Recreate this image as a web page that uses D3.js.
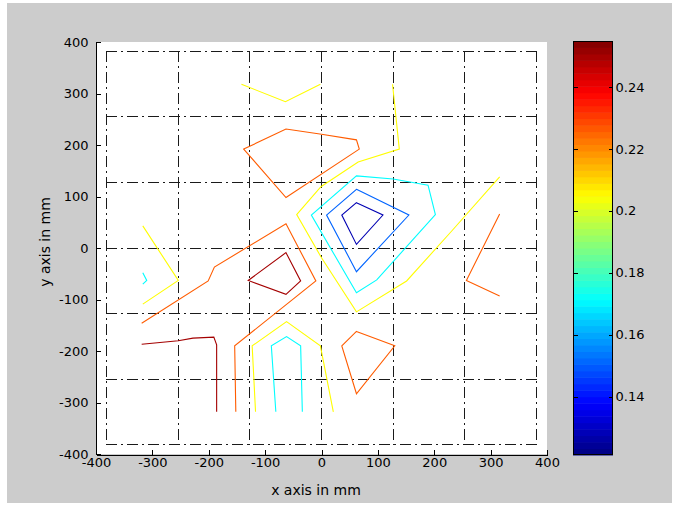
<!DOCTYPE html>
<html>
<head>
<meta charset="utf-8">
<script src="https://cdn.jsdelivr.net/npm/d3@7"></script>
<style>
  body { margin: 0; background: #fff; }
  svg { display: block; }
  text { font-family: "DejaVu Sans", sans-serif; fill: #000; }
</style>
</head>
<body>
<div class="vis"></div>
<script>
// axis ticks and grid (mm)
const xTicks = [-400, -300, -200, -100, 0, 100, 200, 300, 400];
const yTicks = [-400, -300, -200, -100, 0, 100, 200, 300, 400];
const gridPos = [-381.8, -254.5, -127.3, 0, 127.3, 254.5, 381.8];

// colour limits and colorbar ticks
const clim = [0.1212, 0.2548];
const cbTicks = [0.14, 0.16, 0.18, 0.2, 0.22, 0.24];
const cbLabels = ["0.14", "0.16", "0.18", "0.2", "0.22", "0.24"];

// contour levels
const levels = { darkBlue: 0.128, blue: 0.151, cyan: 0.171, yellow: 0.205, orange: 0.226, darkRed: 0.25 };

// contour lines, [x mm, y mm]
const yellowTop = [[-142, 318], [-64, 284], [-2, 318]];
const orangeTopRing = [[-138, 192], [-63, 231], [0, 221], [62, 210], [67, 192], [-63, 98]];
const yellowMain = [[126, 318], [138, 192], [65, 167], [-1, 119], [-44, 65], [0, -19], [62, -124], [151, -64], [231, 33], [316, 138]];
const cyanRing = [[62, 140], [127, 134], [189, 122], [202, 65], [98, -62], [62, -87], [-18, 64]];
const blueRing = [[62, 114], [155, 64], [62, -46], [9, 64]];
const darkBlueRing = [[62, 88], [109, 64], [62, 7], [36, 64]];
const orangeLeft = [[-319, -146], [-201, -64], [-190, -37], [-63, 47], [-10, -64], [-154, -190], [-152, -318]];
const darkRedRing = [[-63, -9], [-37, -64], [-63, -90], [-130, -63]];
const yellowLeft = [[-317, 43], [-254, -63], [-317, -109]];
const cyanLeft = [[-317, -48], [-310, -63], [-317, -70]];
const darkRedLower = [[-319, -187], [-254, -180], [-228, -175], [-191, -173], [-186, -188], [-186, -318]];
const yellowLower = [[-117, -318], [-123, -190], [-62, -143], [-2, -190], [21, -318]];
const cyanLower = [[-81, -318], [-89, -190], [-62, -172], [-37, -190], [-34, -318]];
const orangeLowerRing = [[62, -162], [130, -190], [62, -283], [36, -190]];
const orangeRight = [[316, 66], [257, -63], [316, -93]];

const contours = [
  { level: levels.yellow, pts: yellowTop, closed: false },
  { level: levels.orange, pts: orangeTopRing, closed: true },
  { level: levels.yellow, pts: yellowMain, closed: false },
  { level: levels.cyan, pts: cyanRing, closed: true },
  { level: levels.blue, pts: blueRing, closed: true },
  { level: levels.darkBlue, pts: darkBlueRing, closed: true },
  { level: levels.orange, pts: orangeLeft, closed: false },
  { level: levels.darkRed, pts: darkRedRing, closed: true },
  { level: levels.yellow, pts: yellowLeft, closed: false },
  { level: levels.cyan, pts: cyanLeft, closed: false },
  { level: levels.darkRed, pts: darkRedLower, closed: false },
  { level: levels.yellow, pts: yellowLower, closed: false },
  { level: levels.cyan, pts: cyanLower, closed: false },
  { level: levels.orange, pts: orangeLowerRing, closed: true },
  { level: levels.orange, pts: orangeRight, closed: false },
];

// matlab style jet
const jet = (t) => {
  const c = (v) => Math.round(255 * Math.max(0, Math.min(1, v)));
  const r = c(Math.min(4 * t - 1.5, -4 * t + 4.5));
  const g = c(Math.min(4 * t - 0.5, -4 * t + 3.5));
  const b = c(Math.min(4 * t + 0.5, -4 * t + 2.5));
  return `rgb(${r},${g},${b})`;
};
const color = d3.scaleSequential(jet).domain(clim);

const W = 679, H = 506;
const svg = d3.select(".vis").append("svg").attr("width", W).attr("height", H);

// figure background
svg.append("rect").attr("x", 7).attr("y", 3).attr("width", 665).attr("height", 500).attr("fill", "#cccccc");

const x = d3.scaleLinear().domain([-400, 400]).range([96, 547]);
const y = d3.scaleLinear().domain([-400, 400]).range([454, 42]);

svg.append("rect")
  .attr("x", x(-400)).attr("y", y(400))
  .attr("width", x(400) - x(-400)).attr("height", y(-400) - y(400))
  .attr("fill", "#fff");

// dash-dot grid box
const grid = svg.append("g")
  .attr("stroke", "#1a1a1a")
  .attr("stroke-width", 1)
  .attr("stroke-dasharray", "11,4,2,4")
  .attr("shape-rendering", "crispEdges");
const gMin = d3.min(gridPos), gMax = d3.max(gridPos);
grid.selectAll(".gv").data(gridPos).enter().append("line")
  .attr("x1", (d) => x(d)).attr("x2", (d) => x(d))
  .attr("y1", y(gMax)).attr("y2", y(gMin));
grid.selectAll(".gh").data(gridPos).enter().append("line")
  .attr("y1", (d) => y(d)).attr("y2", (d) => y(d))
  .attr("x1", x(gMin)).attr("x2", x(gMax));

// contour lines
const line = d3.line().x((d) => x(d[0])).y((d) => y(d[1]));
const lineClosed = d3.line().x((d) => x(d[0])).y((d) => y(d[1])).curve(d3.curveLinearClosed);
svg.append("g").selectAll("path").data(contours).enter().append("path")
  .attr("fill", "none")
  .attr("stroke", (d) => color(d.level))
  .attr("stroke-width", 1.1)
  .attr("d", (d) => (d.closed ? lineClosed(d.pts) : line(d.pts)));

// axes
const fmt = (d) => String(d);
const xAxis = svg.append("g")
  .attr("transform", "translate(0,454.5)")
  .call(d3.axisBottom(x).tickValues(xTicks).tickSize(-5).tickSizeOuter(0).tickPadding(3).tickFormat(fmt));
const yAxis = svg.append("g")
  .attr("transform", "translate(95.5,0)")
  .call(d3.axisLeft(y).tickValues(yTicks).tickSize(-5).tickSizeOuter(0).tickPadding(7).tickFormat(fmt));
[xAxis, yAxis].forEach((a) => {
  a.selectAll("path, line").attr("stroke", "#000").attr("shape-rendering", "crispEdges");
  a.selectAll("text").attr("font-size", 13).attr("fill", "#000");
});

svg.append("text")
  .attr("x", 316).attr("y", 495)
  .attr("text-anchor", "middle")
  .attr("font-size", 14)
  .text("x axis in mm");
svg.append("text")
  .attr("transform", "translate(50,242) rotate(-90)")
  .attr("text-anchor", "middle")
  .attr("font-size", 14)
  .text("y axis in mm");

// colorbar
const cbX0 = 573, cbX1 = 613;
const cb = d3.scaleLinear().domain(clim).range([455, 41]);
const nBands = 64;
const step = (clim[1] - clim[0]) / nBands;
svg.append("g").selectAll("rect").data(d3.range(nBands)).enter().append("rect")
  .attr("x", cbX0)
  .attr("width", cbX1 - cbX0)
  .attr("y", (i) => cb(clim[0] + (i + 1) * step))
  .attr("height", (i) => cb(clim[0] + i * step) - cb(clim[0] + (i + 1) * step) + 0.5)
  .attr("fill", (i) => jet((i + 0.5) / nBands));
svg.append("rect")
  .attr("x", cbX0 + 0.5).attr("y", cb(clim[1]) + 0.5)
  .attr("width", cbX1 - cbX0 - 1).attr("height", cb(clim[0]) - cb(clim[1]) - 1)
  .attr("fill", "none").attr("stroke", "#000");

const cbRight = svg.append("g")
  .attr("transform", `translate(${cbX1 - 0.5},0)`)
  .call(d3.axisRight(cb).tickValues(cbTicks).tickSize(-4).tickSizeOuter(0).tickPadding(3)
    .tickFormat((d, i) => cbLabels[i]));
const cbLeft = svg.append("g")
  .attr("transform", `translate(${cbX0 + 0.5},0)`)
  .call(d3.axisLeft(cb).tickValues(cbTicks).tickSize(-4).tickSizeOuter(0).tickFormat(""));
[cbRight, cbLeft].forEach((a) => {
  a.select(".domain").remove();
  a.selectAll("line").attr("stroke", "#000").attr("shape-rendering", "crispEdges");
  a.selectAll("text").attr("font-size", 13).attr("fill", "#000");
});
</script>
</body>
</html>
